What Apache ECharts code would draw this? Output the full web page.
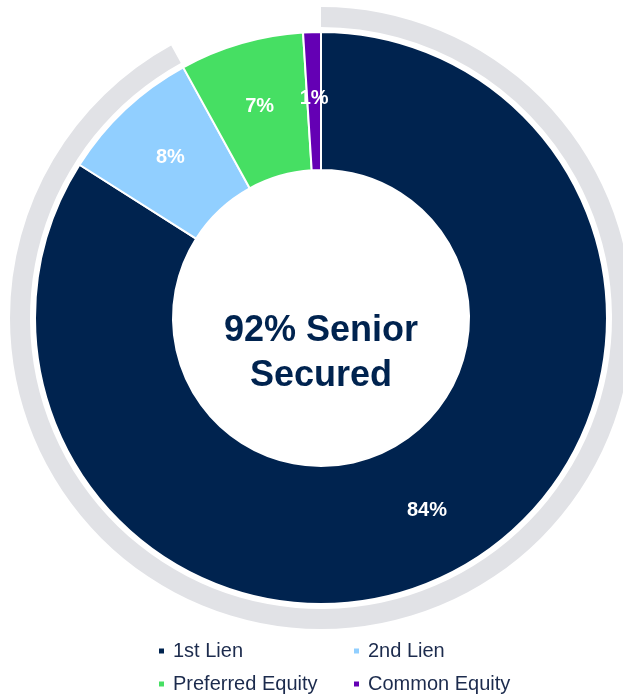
<!DOCTYPE html>
<html>
<head>
<meta charset="utf-8">
<script src="https://cdn.jsdelivr.net/npm/echarts@6/dist/echarts.min.js"></script>
<style>
  html, body { margin: 0; padding: 0; background: #fff; }
  #chart { width: 623px; height: 694px; }
</style>
</head>
<body>
<div id="chart"></div>
<script>
// portfolio mix, clockwise from 12 o'clock
const categories = ['1st Lien', '2nd Lien', 'Preferred Equity', 'Common Equity'];
const shares = [84, 8, 7, 1];
const seniorCategories = ['1st Lien', '2nd Lien'];

const colors = ['#00234F', '#91CFFF', '#46DF63', '#6400B4'];
const navy = '#00234F';
const font = 'Liberation Sans, Arial, sans-serif';

const seniorShare = shares
  .filter((v, i) => seniorCategories.includes(categories[i]))
  .reduce((a, b) => a + b, 0);

const chart = echarts.init(document.getElementById('chart'), null, { renderer: 'canvas' });

// legend laid out as a 2x2 grid, one legend per cell
const legendSlots = [[157, 641], [352, 641], [157, 674], [352, 674]];
const legends = categories.map((c, i) => ({
  left: legendSlots[i][0],
  top: legendSlots[i][1],
  padding: 0,
  itemWidth: 7,
  itemHeight: 7,
  icon: 'rect',
  selectedMode: false,
  data: [c],
  textStyle: {
    fontFamily: font,
    fontSize: 20,
    lineHeight: 20,
    color: '#1C2B4D',
    padding: [0, 0, 0, 3]
  }
}));

const option = {
  animation: false,
  color: colors,
  legend: legends,
  graphic: [{
    type: 'text',
    x: 321,
    y: 354,
    style: {
      text: seniorShare + '% Senior\nSecured',
      align: 'center',
      verticalAlign: 'middle',
      fontFamily: font,
      fontSize: 36,
      fontWeight: 'bold',
      lineHeight: 45,
      fill: navy
    }
  }],
  series: [
    {
      // grey arc marking the senior secured part
      name: 'senior',
      type: 'pie',
      center: [321, 318],
      radius: [291, 311],
      startAngle: 90,
      silent: true,
      label: { show: false },
      labelLine: { show: false },
      data: [
        { value: seniorShare, name: 'Senior Secured', itemStyle: { color: '#E1E2E6' } },
        { value: 100 - seniorShare, name: 'other', itemStyle: { color: 'rgba(0,0,0,0)' } }
      ]
    },
    {
      name: 'mix',
      type: 'pie',
      center: [321, 318],
      radius: [148, 286],
      startAngle: 90,
      itemStyle: { borderColor: '#fff', borderWidth: 2 },
      label: {
        show: true,
        position: 'inside',
        formatter: '{c}%',
        color: '#fff',
        fontFamily: font,
        fontSize: 20,
        fontWeight: 'bold'
      },
      emphasis: { disabled: true },
      data: categories.map((c, i) => ({ name: c, value: shares[i] }))
    }
  ]
};

chart.setOption(option);
</script>
</body>
</html>
